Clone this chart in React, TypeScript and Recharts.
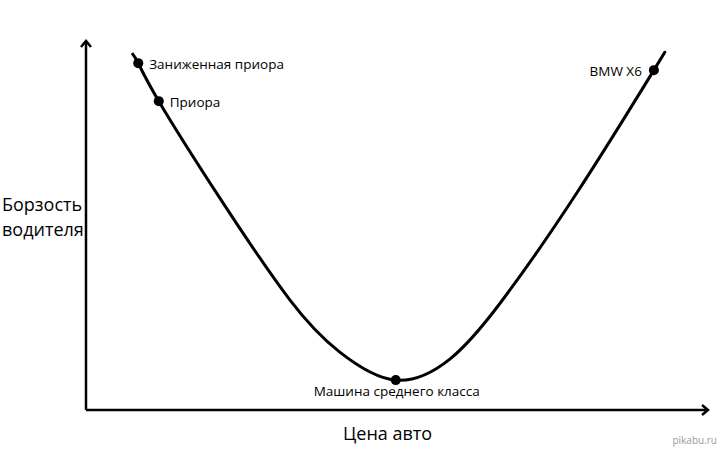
import { ComposedChart, Line, Scatter, XAxis, YAxis, ReferenceDot, ReferenceLine } from 'recharts'

// curve: price (0-100) vs driver boldness (0-100)
const curveX = [7.4, 8.4, 11.7, 21.5, 32.8, 40.8, 49.8, 58.5, 66.6, 78.9, 91.3, 92.6]
const curveY = [96.7, 94.0, 83.7, 57.5, 29.8, 15.7, 8.1, 13.8, 29.0, 58.8, 92.1, 95.7]

const markerNames = ['Заниженная приора', 'Приора', 'Машина среднего класса', 'BMW X6']
const markerX = [8.4, 11.7, 49.8, 91.3]
const markerY = [94.0, 83.7, 8.1, 92.1]

const xTitle = 'Цена авто'
const yTitle = ['Борзость', 'водителя']

const curve = curveX.map((x, i) => ({ x, y: curveY[i] }))
const markers = markerNames.map((name, i) => ({ name, x: markerX[i], y: markerY[i] }))

const FONT = '"Open Sans", sans-serif'

function MarkerShape(props: any) {
  const { cx, cy, payload } = props
  const name: string = payload.name
  let tx = cx + 11
  let ty = cy + 1
  let anchor: 'start' | 'end' | 'middle' = 'start'
  if (name === 'BMW X6') {
    tx = cx - 12
    anchor = 'end'
  } else if (name === 'Машина среднего класса') {
    tx = cx + 1
    ty = cy + 11
    anchor = 'middle'
  }
  return (
    <g>
      <circle cx={cx} cy={cy} r={5} fill="#000" />
      <text x={tx} y={ty} textAnchor={anchor} dominantBaseline="central" fontSize={13.5} fontFamily={FONT} fill="#000">
        {name}
      </text>
    </g>
  )
}

const ArrowUp = (p: any) => (
  <polyline points={`${p.cx - 5},${p.cy + 6} ${p.cx},${p.cy} ${p.cx + 5},${p.cy + 6}`} fill="none" stroke="#000" strokeWidth={2.5} />
)
const ArrowRight = (p: any) => (
  <polyline points={`${p.cx - 6},${p.cy - 5} ${p.cx},${p.cy} ${p.cx - 6},${p.cy + 5}`} fill="none" stroke="#000" strokeWidth={2.5} />
)

export default function App() {
  return (
    <div style={{ position: 'absolute', left: 0, top: 0, width: 722, height: 451, background: '#fff', fontFamily: FONT }}>
      <ComposedChart width={722} height={451} margin={{ top: 41, right: 14, bottom: 41, left: 86 }}>
        <XAxis type="number" dataKey="x" domain={[0, 100]} hide allowDataOverflow />
        <YAxis type="number" dataKey="y" domain={[0, 100]} hide allowDataOverflow />
        <ReferenceLine y={0} stroke="#000" strokeWidth={2.5} ifOverflow="visible" />
        <ReferenceLine x={0} stroke="#000" strokeWidth={2.5} ifOverflow="visible" />
        <ReferenceDot x={0} y={100} ifOverflow="visible" shape={ArrowUp} />
        <ReferenceDot x={100} y={0} ifOverflow="visible" shape={ArrowRight} />
        <Line
          data={curve}
          dataKey="y"
          type="natural"
          stroke="#000"
          strokeWidth={3}
          dot={false}
          activeDot={false}
          isAnimationActive={false}
        />
        <Scatter data={markers} dataKey="y" shape={MarkerShape} isAnimationActive={false} />
      </ComposedChart>
      <div style={{ position: 'absolute', left: 2, top: 192, fontSize: 18, lineHeight: '25px', color: '#000' }}>
        {yTitle.map(t => (
          <div key={t}>{t}</div>
        ))}
      </div>
      <div style={{ position: 'absolute', left: 343, top: 421, fontSize: 18, lineHeight: '25px', color: '#000' }}>{xTitle}</div>
      <div style={{ position: 'absolute', right: 5, top: 433, fontSize: 10, color: '#9a9a9a' }}>pikabu.ru</div>
    </div>
  )
}
